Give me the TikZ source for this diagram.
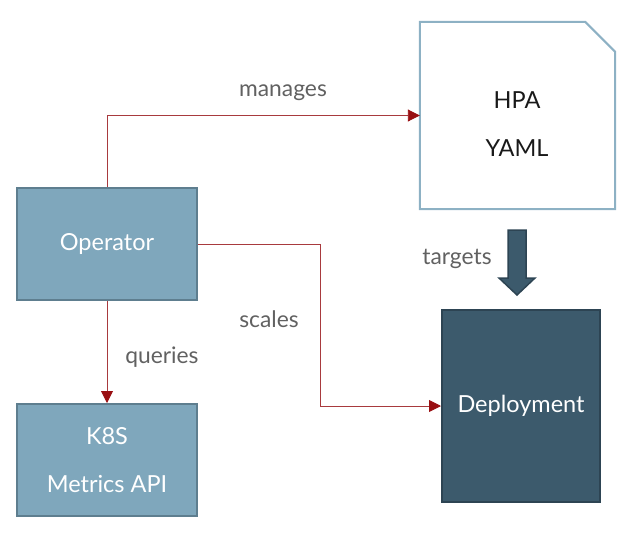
\documentclass[tikz,border=0pt]{standalone}
\usepackage{fontspec}
\setmainfont{Lato}
\usepackage{xcolor}
\usepackage{tikz}
\usetikzlibrary{arrows.meta}
\definecolor{opfill}{HTML}{7FA7BC}
\definecolor{opline}{HTML}{5E7E8F}
\definecolor{depfill}{HTML}{3C5A6C}
\definecolor{depline}{HTML}{2D4453}
\definecolor{docline}{HTML}{8DB1C4}
\definecolor{linkred}{HTML}{A83A3E}
\definecolor{tipred}{HTML}{990F12}
\definecolor{labelgray}{HTML}{616161}
\tikzset{ comp_box/.style = {rectangle, draw=opline, fill=opfill, line width=2pt, text=white, align=center, minimum width=180pt, minimum height=112pt, font=\fontsize{23.5}{48}\selectfont} }
\tikzset{ dep_box/.style = {rectangle, draw=depline, fill=depfill, line width=2pt, text=white, align=center, minimum width=158pt, minimum height=192pt, font=\fontsize{23.5}{48}\selectfont} }
\tikzset{ doc_box/.style = {rectangle, inner sep=0pt, minimum width=195pt, minimum height=187pt} }
\tikzset{ doc_text/.style = {text=black!90, align=center, font=\fontsize{23.5}{48}\selectfont} }
\tikzset{ link/.style = {draw=linkred, line width=0.9pt, -{Triangle[length=12pt, width=12pt, fill=tipred, color=tipred]}} }
\tikzset{ link_label/.style = {text=labelgray, font=\fontsize{22.8}{26}\selectfont} }

\begin{document}
\begin{tikzpicture}[x=1pt, y=-1pt]
        \useasboundingbox (0,0) rectangle (640,533);
        \node[comp_box] (op) at (107,244) {Operator};
        \node[comp_box] (k8s) at (107,460) {K8S\\Metrics API};
        \node[dep_box] (dep) at (521,406) {Deployment};
        % document with folded corner
        \node[doc_box] (hpa) at (517.5,115.5) {};
        \draw[docline, line width=2pt, fill=white] (hpa.south west) -- (hpa.north west)
            -- ([xshift=-30pt]hpa.north east) -- ([yshift=-30pt]hpa.north east)
            -- (hpa.south east) -- cycle;
        \node[doc_text] (hpatext) at (517,124) {HPA\\YAML};
        % thick arrow
        \coordinate (tgt) at (517,230);
        \draw[depline, fill=depfill, line width=1.5pt] (tgt) ++(-9,0) -- ++(18,0) -- ++(0,48)
            -- ++(9,0) -- ++(-18,17) -- ++(-18,-17) -- ++(9,0) -- cycle;
        \draw[link] (op.north) |- (hpa.west);
        \draw[link] (op.east) -- ([xshift=122pt]op.east) |- (dep.west);
        \draw[link] (op.south) -- (k8s.north);
        \node[link_label] (lmanages) at (283,93) {manages};
        \node[link_label] (lscales) at (269,319) {scales};
        \node[link_label] (lqueries) at (162,357) {queries};
        \node[link_label] (ltargets) at (457,259) {targets};
    \end{tikzpicture}
\end{document}
